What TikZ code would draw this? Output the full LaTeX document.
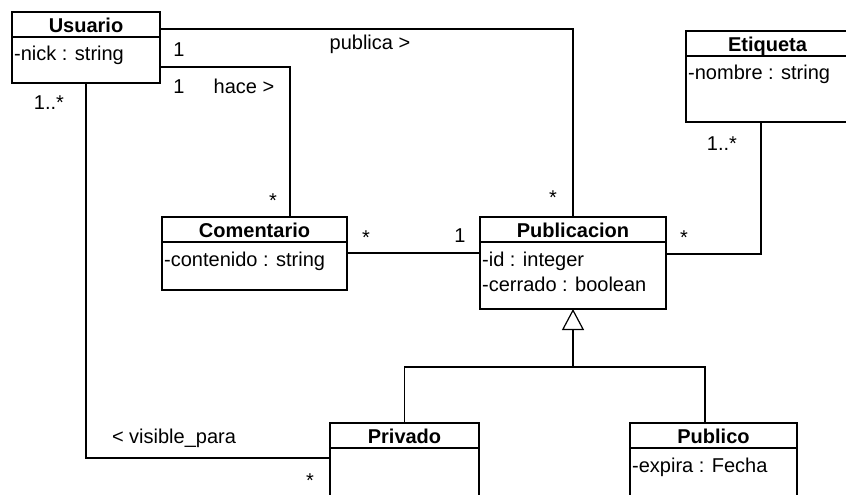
\documentclass[tikz,border=0pt]{standalone}
\usepackage{fontspec}
\setmainfont{Liberation Sans}
\usetikzlibrary{arrows.meta,calc}
\begin{document}
\begin{tikzpicture}[x=1pt,y=-1pt,
  every node/.style={font=\fontsize{20}{24}\selectfont},
  cls/.style={draw,line width=1.2pt,anchor=north west,inner sep=0,outer sep=0},
  ttl/.style={anchor=base,inner sep=0,font=\fontsize{20}{24}\selectfont\bfseries},
  attr/.style={anchor=base west,inner sep=0},
  lbl/.style={anchor=base,inner sep=0},
  conn/.style={line width=1.2pt},
]
\useasboundingbox (0,0) rectangle (846,495);
\fill[white] (0,0) rectangle (846,495);
\clip (0,0) rectangle (846,495);

% classes
\node[cls,minimum width=148pt,minimum height=71pt] (usu) at (12,12) {};
\node[cls,minimum width=185pt,minimum height=73pt] (com) at (162,217) {};
\node[cls,minimum width=186pt,minimum height=92pt] (pub) at (480,217) {};
\node[cls,minimum width=163pt,minimum height=91pt] (eti) at (686,31) {};
\node[cls,minimum width=149pt,minimum height=90pt] (priv) at (330,423) {};
\node[cls,minimum width=167pt,minimum height=90pt] (publ) at (630,423) {};

\foreach \c in {usu,com,pub,eti,priv,publ}{
  \draw[conn] ($(\c.north west)+(0,25)$) -- ($(\c.north east)+(0,25)$);
}

% titles
\node[ttl] (usuT) at ($(usu.north)+(0,20.5)$) {Usuario};
\node[ttl] (comT) at ($(com.north)+(0,20.5)$) {Comentario};
\node[ttl] (pubT) at ($(pub.north)+(0,20.5)$) {Publicacion};
\node[ttl] (etiT) at ($(eti.north)+(0,20.5)$) {Etiqueta};
\node[ttl] (privT) at ($(priv.north)+(0,20.5)$) {Privado};
\node[ttl] (publT) at ($(publ.north)+(0,20.5)$) {Publico};

% attributes
\node[attr] (usuA) at ($(usu.north west)+(2,49)$) {-nick : string};
\node[attr] (comA) at ($(com.north west)+(2,49)$) {-contenido : string};
\node[attr] (pubA) at ($(pub.north west)+(2,49)$) {-id : integer};
\node[attr] (pubB) at ($(pub.north west)+(2,74)$) {-cerrado : boolean};
\node[attr] (etiA) at ($(eti.north west)+(2,49)$) {-nombre : string};
\node[attr] (publA) at ($(publ.north west)+(2,49)$) {-expira : Fecha};

% connectors
\draw[conn] ($(usu.north east)+(0,17)$) -| (pub.north);
\draw[conn] ($(usu.north east)+(0,55)$) -| ($(com.north west)+(128,0)$);
\draw[conn] (usu.south) |- ($(priv.north west)+(0,35)$);
\draw[conn] ($(com.north east)+(0,36)$) -- ($(pub.north west)+(0,36)$);
\draw[conn] ($(eti.south west)+(75,0)$) |- ($(pub.north east)+(0,37)$);

% generalization
\coordinate (gj) at ($(pub.south)+(0,58)$);
\draw[conn,-{Triangle[open,length=21pt,width=22pt]}] (gj) -- (pub.south);
\draw[conn] (priv.north) |- (gj) -| ($(publ.north west)+(75,0)$);

% labels
\node[lbl] (m1) at (179,57) {1};
\node[lbl] (m2) at (179,93) {1};
\node[lbl] (l1) at (244,93) {hace >};
\node[lbl] (l2) at (370,50) {publica >};
\node[lbl] (m3) at (49,110) {1..*};
\node[lbl] (m4) at (273,207) {*};
\node[lbl] (m5) at (366,244) {*};
\node[lbl] (m6) at (460,242) {1};
\node[lbl] (m7) at (553,204) {*};
\node[lbl] (m8) at (684,244) {*};
\node[lbl] (m9) at (722,150) {1..*};
\node[lbl] (l3) at (174,443) {< visible\_para};
\node[lbl] (m10) at (310,487) {*};
\end{tikzpicture}
\end{document}
